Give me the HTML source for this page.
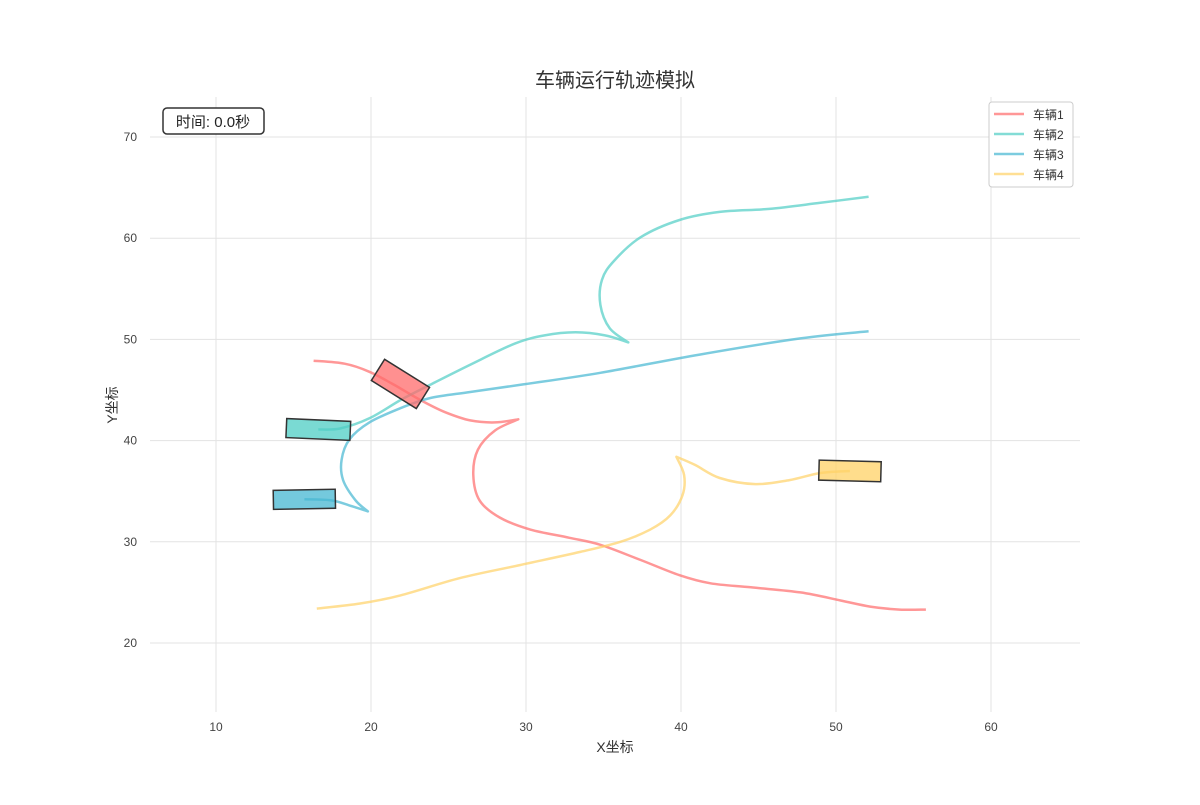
<!DOCTYPE html>
<html><head><meta charset="utf-8"><style>
body{margin:0;background:#fff}
svg text{font-family:"Liberation Sans","Noto Sans CJK SC",sans-serif}
</style></head><body>
<svg id="chart" width="1200" height="800" xmlns="http://www.w3.org/2000/svg">
<rect width="1200" height="800" fill="#fff"/>
<g id="grid"></g>
<g id="ticks"></g>
<g id="series"></g>
<g id="cars"></g>
<text x="615" y="87" text-anchor="middle" font-size="20" fill="#333">车辆运行轨迹模拟</text>
<text x="615" y="752" text-anchor="middle" font-size="14" fill="#333">X坐标</text>
<text x="117" y="405" text-anchor="middle" font-size="14" fill="#333" transform="rotate(-90 117 405)">Y坐标</text>
<g>
<rect x="163" y="108" width="101" height="26" rx="4" fill="#fff" stroke="#333" stroke-width="1.5"/>
<text x="213" y="127" text-anchor="middle" font-size="15" fill="#222">时间: 0.0秒</text>
</g>
<g id="legend">
<rect x="989" y="102" width="84" height="85" rx="3" fill="#fff" stroke="#ccc"/>
</g>
</svg>
<script>
const xTicks=[10,20,30,40,50,60];
const yTicks=[20,30,40,50,60,70];
const names=["车辆1","车辆2","车辆3","车辆4"];
const colors=["#ff6b6b","#4ecdc4","#45b7d1","#ffd166"];
const v1x=[16.3,18.3,19.9,21.5,23.2,24.8,26.4,28.0,29.5,28.0,26.9,26.6,27.0,28.3,30.3,32.8,34.8,37.4,39.9,41.9,44.5,47.7,50.3,52.2,54.1,55.8];
const v1y=[47.9,47.6,46.8,45.5,44.0,42.8,42.0,41.8,42.1,41.0,39.1,36.6,34.1,32.4,31.2,30.4,29.7,28.2,26.7,25.9,25.5,25.0,24.2,23.6,23.3,23.3];
const v2x=[16.6,18.0,19.9,21.9,23.8,26.4,29.3,31.2,33.2,35.1,36.6,35.4,34.8,34.9,35.7,37.4,39.9,42.5,45.7,49.0,52.1];
const v2y=[41.1,41.2,42.2,44.0,45.5,47.5,49.6,50.4,50.7,50.4,49.7,51.1,53.4,55.9,57.8,60.1,61.8,62.6,62.9,63.5,64.1];
const v3x=[15.7,17.4,18.6,19.8,19.0,18.2,18.1,18.6,19.9,21.9,23.8,26.4,29.6,34.8,41.2,47.7,52.1];
const v3y=[34.2,34.1,33.6,33.0,34.1,36.1,38.1,40.1,41.8,43.2,44.2,44.8,45.5,46.7,48.5,50.1,50.8];
const v4x=[50.9,49.0,47.0,44.8,42.5,40.9,39.7,40.2,40.1,39.3,38.0,36.1,33.5,29.6,25.7,21.9,19.3,16.5];
const v4y=[37.0,36.8,36.1,35.7,36.3,37.6,38.4,36.6,34.6,32.6,31.2,30.0,29.0,27.7,26.4,24.7,23.9,23.4];
const cusps=[8,10,3,6];
const carX=[21.9,16.6,15.7,50.9];
const carY=[45.6,41.1,34.2,37.0];
const carAngle=[32,2.5,-1,1.5];
const X=v=>216+(v-10)*15.5;
const Y=v=>137+(70-v)*10.12;
const NS="http://www.w3.org/2000/svg";
function mk(t,a,p){const e=document.createElementNS(NS,t);for(const k in a)e.setAttribute(k,a[k]);p.appendChild(e);return e;}
function smooth(pts){
 let d='M'+pts[0][0].toFixed(1)+' '+pts[0][1].toFixed(1);
 for(let i=0;i<pts.length-1;i++){
  const p0=pts[Math.max(0,i-1)],p1=pts[i],p2=pts[i+1],p3=pts[Math.min(pts.length-1,i+2)];
  const c1=[p1[0]+(p2[0]-p0[0])/6,p1[1]+(p2[1]-p0[1])/6];
  const c2=[p2[0]-(p3[0]-p1[0])/6,p2[1]-(p3[1]-p1[1])/6];
  d+=` C${c1[0].toFixed(1)} ${c1[1].toFixed(1)} ${c2[0].toFixed(1)} ${c2[1].toFixed(1)} ${p2[0].toFixed(1)} ${p2[1].toFixed(1)}`;
 }
 return d;
}
const grid=document.getElementById('grid'),ticks=document.getElementById('ticks');
xTicks.forEach(t=>{
 const l=mk('line',{x1:X(t),x2:X(t),y1:97,y2:712,stroke:'#e3e3e3'},grid);
 
 
 const s=mk('text',{x:X(t),y:731,'text-anchor':'middle','font-size':12,fill:'#444'},ticks);s.textContent=t;
 
 
});
yTicks.forEach(t=>{
 const l=mk('line',{x1:150,x2:1080,y1:Y(t),y2:Y(t),stroke:'#e3e3e3'},grid);
 
 
 const s=mk('text',{x:137,y:Y(t)+4,'text-anchor':'end','font-size':12,fill:'#444'},ticks);s.textContent=t;
 
 
});
const series=document.getElementById('series');
[[v1x,v1y],[v2x,v2y],[v3x,v3y],[v4x,v4y]].forEach((s,i)=>{
 const pts=s[0].map((x,j)=>[X(x),Y(s[1][j])]);
 const c=cusps[i];
 const d=smooth(pts.slice(0,c+1))+' '+smooth(pts.slice(c)).replace(/^M[^C]*/,'');
 const p=mk('path',{d:d,fill:'none',stroke:colors[i],'stroke-width':2.5,'stroke-opacity':0.7,'stroke-linejoin':'round'},series);
 
 
});
const cars=document.getElementById('cars');
const carW=[53,64,62,62],carH=[25,19,19,20];
carX.forEach((x,i)=>{
 const r=mk('rect',{x:-carW[i]/2,y:-carH[i]/2,width:carW[i],height:carH[i],fill:colors[i],'fill-opacity':0.75,stroke:'#333','stroke-width':1.5,transform:`translate(${X(x)},${Y(carY[i])}) rotate(${carAngle[i]})`},cars);
 
 
});
const lg=document.getElementById('legend');
names.forEach((n,i)=>{
 const y=114+i*20;
 const g=mk('g',{},lg);
 
 
 mk('line',{x1:994,x2:1024,y1:y,y2:y,stroke:colors[i],'stroke-width':2.5,'stroke-opacity':0.7},g);
 const t=mk('text',{x:1033,y:y+5,'font-size':12,fill:'#333'},g);t.textContent=n;
});
</script>
</body></html>
